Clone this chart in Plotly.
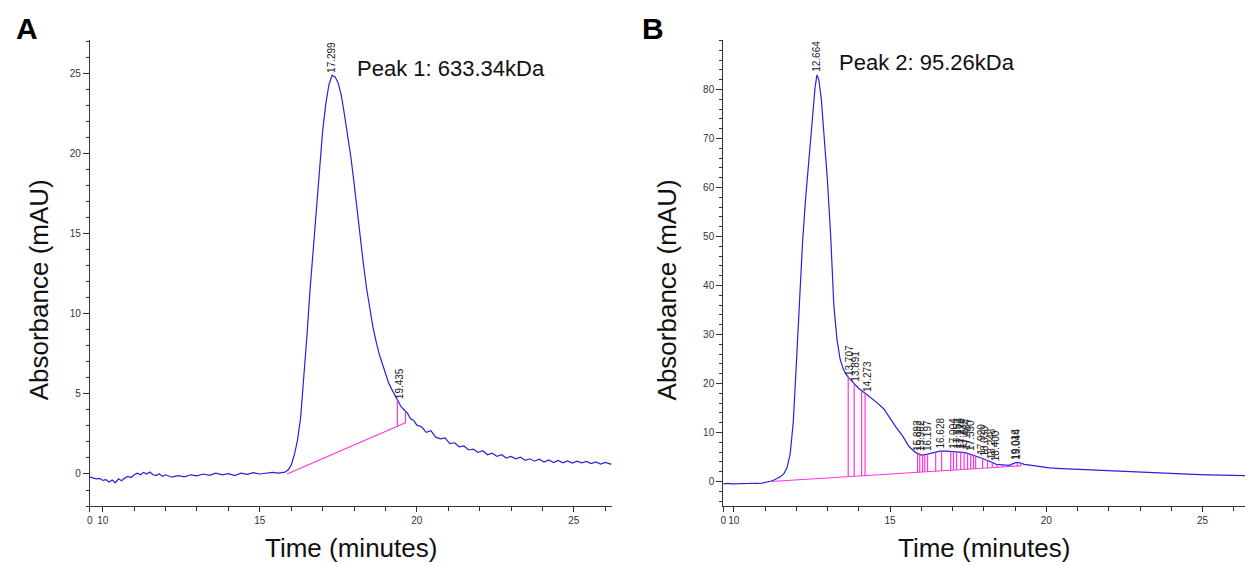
import numpy as np
import plotly.graph_objects as go

# ---------------- Panel A data ----------------
A_TIME = [9.59, 9.70, 9.80, 9.90, 10.00, 10.10, 10.20, 10.30, 10.40, 10.50, 10.60, 10.70, 10.80, 10.90,
          11.00, 11.10, 11.20, 11.30, 11.40, 11.50, 11.60, 11.70, 11.80, 11.90, 12.00, 12.20, 12.40,
          12.60, 12.80, 13.00, 13.20, 13.40, 13.60, 13.80, 14.00, 14.20, 14.40, 14.60, 14.80, 15.00,
          15.20, 15.40, 15.60, 15.80, 15.90, 16.00, 16.10, 16.20, 16.30, 16.40, 16.50, 16.60, 16.70,
          16.80, 16.90, 17.00, 17.10, 17.20, 17.30, 17.40, 17.50, 17.60, 17.70, 17.80, 17.90, 18.00,
          18.10, 18.20, 18.30, 18.40, 18.50, 18.60, 18.70, 18.80, 18.90, 19.00, 19.10, 19.20, 19.30,
          19.40, 19.50, 19.60, 19.70, 19.80, 19.90, 20.00, 20.15, 20.30, 20.45, 20.60, 20.75, 20.90,
          21.05, 21.20, 21.35, 21.50, 21.65, 21.80, 21.95, 22.10, 22.25, 22.40, 22.55, 22.70, 22.85,
          23.00, 23.15, 23.30, 23.45, 23.60, 23.75, 23.90, 24.05, 24.20, 24.35, 24.50, 24.65, 24.80,
          24.95, 25.10, 25.25, 25.40, 25.55, 25.70, 25.85, 26.00, 26.20]
A_ABS = [-0.20, -0.25, -0.30, -0.28, -0.40, -0.35, -0.50, -0.38, -0.55, -0.30, -0.42, -0.25, -0.15, -0.22,
         -0.05, 0.05, -0.05, 0.10, 0.00, 0.12, -0.05, -0.10, 0.02, -0.15, -0.05, -0.20, -0.10,
         -0.18, -0.05, -0.12, 0.00, -0.08, 0.05, -0.05, 0.02, -0.10, 0.05, -0.02, 0.08, 0.00,
         0.05, 0.10, 0.05, 0.12, 0.25, 0.55, 1.20, 2.10, 3.50, 5.80, 8.60, 11.50, 14.10,
         16.80, 19.20, 21.40, 23.10, 24.30, 24.90, 24.80, 24.40, 23.60, 22.40, 21.20, 19.80, 18.20,
         16.40, 14.70, 13.10, 11.60, 10.30, 9.20, 8.30, 7.50, 6.90, 6.30, 5.70, 5.30, 4.90,
         4.60, 4.20, 4.00, 3.80, 3.45, 3.35, 3.05, 2.95, 2.60, 2.70, 2.30, 2.20, 2.25,
         1.90, 1.95, 1.70, 1.75, 1.50, 1.55, 1.35, 1.45, 1.20, 1.30, 1.10, 1.20, 1.00,
         1.10, 0.95, 1.05, 0.85, 0.95, 0.80, 0.92, 0.75, 0.88, 0.72, 0.85, 0.70, 0.82,
         0.68, 0.80, 0.70, 0.78, 0.65, 0.75, 0.62, 0.72, 0.60]
A_BASELINE_T = [15.87, 19.64]
A_BASELINE_V = [0.0, 3.2]
A_DROPS = [19.38, 19.64]
A_PEAK_LABELS = [17.299, 19.435]

# ---------------- Panel B data ----------------
B_TIME = [9.66, 9.80, 9.95, 10.10, 10.25, 10.40, 10.55, 10.70, 10.85, 11.00, 11.10, 11.20, 11.30, 11.40,
          11.50, 11.60, 11.70, 11.80, 11.90, 12.00, 12.10, 12.20, 12.30, 12.40, 12.50, 12.60, 12.66,
          12.72, 12.80, 12.90, 13.00, 13.10, 13.20, 13.30, 13.40, 13.50, 13.60, 13.70, 13.80, 13.90,
          14.00, 14.20, 14.40, 14.60, 14.80, 15.00, 15.20, 15.40, 15.60, 15.80, 16.00, 16.20, 16.40,
          16.60, 16.80, 17.00, 17.20, 17.40, 17.60, 17.80, 18.00, 18.20, 18.40, 18.60, 18.80, 19.00,
          19.10, 19.30, 19.50, 19.80, 20.10, 20.50, 21.00, 21.40, 21.70, 22.10, 22.50, 22.90, 23.30,
          23.70, 24.00, 24.40, 24.90, 25.20, 25.60, 26.00, 26.36]
B_ABS = [-0.50, -0.40, -0.50, -0.45, -0.55, -0.40, -0.45, -0.35, -0.40, -0.25, -0.10, 0.10, 0.35, 0.60,
         1.00, 1.60, 2.80, 5.50, 12.00, 24.00, 38.00, 49.00, 58.00, 66.00, 74.00, 80.50, 83.00,
         82.00, 78.00, 70.00, 61.00, 50.00, 36.00, 29.00, 25.00, 23.00, 21.80, 21.00, 20.30, 19.70,
         19.00, 18.00, 17.00, 16.00, 14.80, 12.80, 11.00, 9.30, 7.20, 6.00, 5.40, 5.60, 5.90,
         6.20, 6.20, 6.10, 6.00, 5.90, 5.50, 5.10, 4.60, 4.10, 3.50, 3.40, 3.30, 3.80,
         3.90, 3.50, 3.30, 3.10, 2.80, 2.65, 2.50, 2.40, 2.30, 2.15, 2.00, 1.95, 1.80,
         1.75, 1.60, 1.55, 1.40, 1.35, 1.30, 1.25, 1.20]
B_BASELINE_T = [11.19, 19.18]
B_BASELINE_V = [0.0, 3.2]
B_DROPS = [13.66, 13.85, 14.09, 14.20, 15.88, 15.95, 16.04, 16.11, 16.20, 16.46, 16.65,
           16.94, 17.03, 17.13, 17.26, 17.37, 17.48, 17.58, 17.67, 17.74, 17.96, 18.12,
           18.27, 18.43, 18.59, 18.91, 19.07, 19.18]
B_PEAK_LABELS = [12.664, 13.707, 13.891, 14.273, 15.892, 15.962, 16.197, 16.628, 17.004, 17.152,
                 17.270, 17.334, 17.464, 17.590, 17.920, 18.030, 18.248, 18.400, 19.016, 19.044]

X_TICKS = [10, 15, 20, 25]
A_Y_TICKS = [0, 5, 10, 15, 20, 25]
B_Y_TICKS = [0, 10, 20, 30, 40, 50, 60, 70, 80]

BLUE = "#2424d8"
PINK = "#ff33dd"
FONT = "Liberation Sans, Arial, sans-serif"

A_XRANGE = [9.587, 26.2]
A_YRANGE = [-2.0, 27.1]
B_XRANGE = [9.66, 26.36]
B_YRANGE = [-5.0, 90.1]

fig = go.Figure()


def add_panel(fig, t, v, bt, bv, drops, xa, ya):
    fig.add_trace(go.Scatter(x=t, y=v, mode="lines", line=dict(color=BLUE, width=1.2),
                             xaxis=xa, yaxis=ya, showlegend=False, hoverinfo="skip"))
    fig.add_trace(go.Scatter(x=bt, y=bv, mode="lines", line=dict(color=PINK, width=1.2),
                             xaxis=xa, yaxis=ya, showlegend=False, hoverinfo="skip"))
    dx, dy = [], []
    for d in drops:
        base = float(np.interp(d, bt, bv))
        top = float(np.interp(d, t, v))
        dx += [d, d, None]
        dy += [base, top, None]
    fig.add_trace(go.Scatter(x=dx, y=dy, mode="lines", line=dict(color=PINK, width=1.2),
                             xaxis=xa, yaxis=ya, showlegend=False, hoverinfo="skip"))


add_panel(fig, A_TIME, A_ABS, A_BASELINE_T, A_BASELINE_V, A_DROPS, "x", "y")
add_panel(fig, B_TIME, B_ABS, B_BASELINE_T, B_BASELINE_V, B_DROPS, "x2", "y2")

LBL_FONT = dict(size=10, color="#222", family=FONT)
ann = []
for p in A_PEAK_LABELS:
    ann.append(dict(x=p, y=float(np.interp(p, A_TIME, A_ABS)), xref="x", yref="y", text=f"{p:.3f}",
                    textangle=-90, showarrow=False, xanchor="center", yanchor="bottom", yshift=1,
                    font=LBL_FONT))
for p in B_PEAK_LABELS:
    ann.append(dict(x=p, y=float(np.interp(p, B_TIME, B_ABS)), xref="x2", yref="y2", text=f"{p:.3f}",
                    textangle=-90, showarrow=False, xanchor="center", yanchor="bottom", yshift=1,
                    font=LBL_FONT))

ann += [
    dict(x=0.0192, y=0.950, xref="paper", yref="paper", text="<b>A</b>", showarrow=False,
         xanchor="center", yanchor="middle", font=dict(size=30, color="black", family=FONT)),
    dict(x=0.5224, y=0.950, xref="paper", yref="paper", text="<b>B</b>", showarrow=False,
         xanchor="center", yanchor="middle", font=dict(size=30, color="black", family=FONT)),
    dict(x=0.2829, y=0.8796, xref="paper", yref="paper", text="Peak 1: 633.34kDa", showarrow=False,
         xanchor="left", yanchor="middle", font=dict(size=22, color="#111", family=FONT)),
    dict(x=0.6699, y=0.8885, xref="paper", yref="paper", text="Peak 2: 95.26kDa", showarrow=False,
         xanchor="left", yanchor="middle", font=dict(size=22, color="#111", family=FONT)),
    dict(x=0.2792, y=0.030, xref="paper", yref="paper", text="Time (minutes)", showarrow=False,
         xanchor="center", yanchor="middle", font=dict(size=26, color="#111", family=FONT)),
    dict(x=0.7880, y=0.030, xref="paper", yref="paper", text="Time (minutes)", showarrow=False,
         xanchor="center", yanchor="middle", font=dict(size=26, color="#111", family=FONT)),
    dict(x=0.0285, y=0.487, xref="paper", yref="paper", text="Absorbance (mAU)", showarrow=False,
         textangle=-90, xanchor="center", yanchor="middle", font=dict(size=26, color="#111", family=FONT)),
    dict(x=0.5330, y=0.487, xref="paper", yref="paper", text="Absorbance (mAU)", showarrow=False,
         textangle=-90, xanchor="center", yanchor="middle", font=dict(size=26, color="#111", family=FONT)),
]

tickfont = dict(size=10, color="#333", family=FONT)


def xaxis(domain, rng, anchor):
    return dict(domain=domain, range=rng, anchor=anchor, showgrid=False, zeroline=False,
                showline=True, linecolor="#333", linewidth=1, ticks="outside", ticklen=5,
                tickcolor="#333", tickvals=[rng[0]] + X_TICKS, tickangle=0,
                ticktext=["0"] + [str(v) for v in X_TICKS], tickfont=tickfont,
                minor=dict(tickmode="linear", tick0=0, dtick=1, ticks="outside", ticklen=4,
                           tickcolor="#333", showgrid=False))


def yaxis(domain, rng, anchor, ticks, mdt):
    return dict(domain=domain, range=rng, anchor=anchor, showgrid=False, zeroline=False,
                showline=True, linecolor="#333", linewidth=1, ticks="outside", ticklen=6,
                tickcolor="#333", tickvals=ticks, ticktext=[str(v) for v in ticks], tickfont=tickfont,
                minor=dict(tickmode="linear", tick0=0, dtick=mdt, ticks="outside", ticklen=3,
                           tickcolor="#333", showgrid=False))


fig.update_layout(
    width=1248, height=565, margin=dict(l=0, r=0, t=0, b=0),
    paper_bgcolor="white", plot_bgcolor="white",
    xaxis=xaxis([0.0697, 0.4888], A_XRANGE, "y"),
    yaxis=yaxis([0.1044, 0.929], A_YRANGE, "x", A_Y_TICKS, 1),
    xaxis2=xaxis([0.5785, 0.9976], B_XRANGE, "y2"),
    yaxis2=yaxis([0.1044, 0.929], B_YRANGE, "x2", B_Y_TICKS, 2),
    annotations=ann,
)

fig.write_html("out.html")
